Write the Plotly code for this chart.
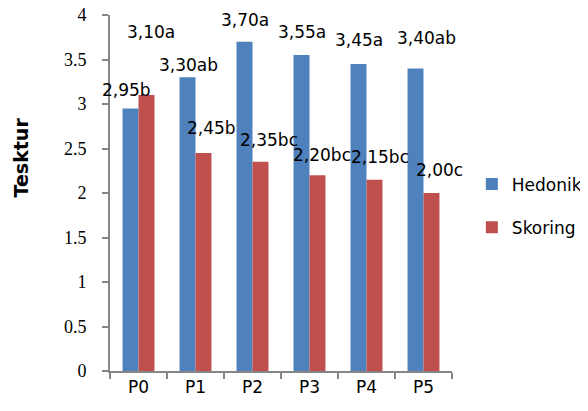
import plotly.graph_objects as go

categories = ["P0", "P1", "P2", "P3", "P4", "P5"]
hedonik = [2.95, 3.30, 3.70, 3.55, 3.45, 3.40]
skoring = [3.10, 2.45, 2.35, 2.20, 2.15, 2.00]
hedonik_labels = ["2,95b", "3,30ab", "3,70a", "3,55a", "3,45a", "3,40ab"]
skoring_labels = ["3,10a", "2,45b", "2,35bc", "2,20bc", "2,15bc", "2,00c"]
y_ticks = [0, 0.5, 1, 1.5, 2, 2.5, 3, 3.5, 4]
y_ticktext = ["0", "0.5", "1", "1.5", "2", "2.5", "3", "3.5", "4"]

# label placement (pixel offsets from bar tops / category centres)
hed_dx = [-12, -7, -8, -8, -8, 3]
hed_dy = [18, 12, 22, 23, 24, 30]
sko_dx = [12, 16, 16, 12, 13, 16]
sko_dy = [63, 25, 22, 20, 23, 23]

BLUE = "#4F81BD"
RED = "#C0504D"
AX = "#868686"
SANS = "DejaVu Sans"

fig = go.Figure()
fig.add_bar(x=categories, y=hedonik, name="Hedonik", marker_color=BLUE,
            marker_line_width=0, legendgroup="h")
fig.add_bar(x=categories, y=skoring, name="Skoring", marker_color=RED,
            marker_line_width=0, legendgroup="s")

ann = []
for c, v, t, dx, dy in zip(categories, hedonik, hedonik_labels, hed_dx, hed_dy):
    ann.append(dict(x=c, y=v, text=t, showarrow=False, xref="x", yref="y",
                    xanchor="center", yanchor="middle", xshift=dx, yshift=dy,
                    font=dict(family=SANS, size=17, color="black")))
for c, v, t, dx, dy in zip(categories, skoring, skoring_labels, sko_dx, sko_dy):
    ann.append(dict(x=c, y=v, text=t, showarrow=False, xref="x", yref="y",
                    xanchor="center", yanchor="middle", xshift=dx, yshift=dy,
                    font=dict(family=SANS, size=17, color="black")))
ann.append(dict(x=-0.26, y=0.6, xref="paper", yref="paper", text="<b>Tesktur</b>",
                textangle=-90, showarrow=False, xanchor="center", yanchor="middle",
                font=dict(family=SANS, size=19, color="black")))

fig.update_layout(
    width=580, height=403,
    margin=dict(l=102, r=136, t=7, b=40, autoexpand=False),
    paper_bgcolor="white", plot_bgcolor="white",
    barmode="group", bargap=0.44, bargroupgap=0,
    showlegend=True,
    legend=dict(x=1.058, y=0.4635, xanchor="left", yanchor="middle",
                font=dict(family=SANS, size=17, color="black"),
                tracegroupgap=18, traceorder="grouped", bgcolor="rgba(0,0,0,0)"),
    annotations=ann,
    xaxis=dict(range=[-0.5, 5.5], autorange=False,
               showline=True, linecolor=AX, linewidth=2, ticks="outside",
               tickson="boundaries", ticklen=6, tickcolor=AX, tickwidth=2,
               tickfont=dict(family=SANS, size=17, color="black"),
               showgrid=False, zeroline=False, fixedrange=True, automargin=False),
    yaxis=dict(range=[0, 4], autorange=False, tickvals=y_ticks, ticktext=y_ticktext,
               showline=True, linecolor=AX, linewidth=2, ticks="outside",
               ticklen=6, tickcolor=AX, tickwidth=2,
               tickfont=dict(family="Liberation Serif", size=18, color="black"),
               ticklabelstandoff=12, ticklabeloverflow="allow",
               showgrid=False, zeroline=False, fixedrange=True, automargin=False),
)

fig.write_html("out.html")
